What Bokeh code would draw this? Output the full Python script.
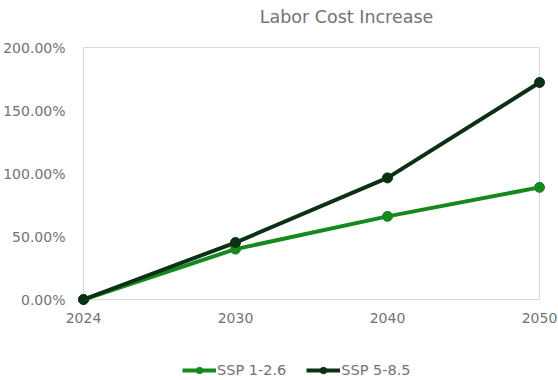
from bokeh.plotting import figure
from bokeh.models import Range1d, NumeralTickFormatter, FixedTicker, Legend, LegendItem, Label
from bokeh.embed import file_html
from bokeh.resources import INLINE

years = ["2024", "2030", "2040", "2050"]
ssp126 = [0.0, 0.40, 0.66, 0.89]
ssp585 = [0.0, 0.452, 0.965, 1.722]
y_ticks = [0.0, 0.5, 1.0, 1.5, 2.0]
title_text = "Labor Cost Increase"

x = list(range(len(years)))
FONT = "DejaVu Sans"
TXT = "#737373"
GREEN = "#16891e"
DARK = "#0b3014"

# frame covers the whole canvas; data 0..3 -> px 83..539, 0..2 -> px 299..47
p = figure(width=558, height=380, output_backend="svg", toolbar_location=None,
           x_range=Range1d(-83 / 152, 3 + 19 / 152), y_range=Range1d(-81 / 126, 2 + 47 / 126),
           min_border_left=0, min_border_right=0, min_border_top=0, min_border_bottom=0)
p.background_fill_color = "white"
p.border_fill_color = "white"
p.outline_line_color = None
p.xgrid.grid_line_color = None
p.ygrid.grid_line_color = None

for ax in (p.xaxis[0], p.yaxis[0]):
    ax.axis_line_color = None
    ax.major_tick_line_color = None
    ax.minor_tick_line_color = None
    ax.major_label_text_font = FONT
    ax.major_label_text_font_size = "14px"
    ax.major_label_text_color = TXT

p.xaxis.ticker = FixedTicker(ticks=x)
p.xaxis.major_label_overrides = {i: y for i, y in zip(x, years)}
p.xaxis.major_label_standoff = 7
p.xaxis.fixed_location = y_ticks[0]
p.yaxis.ticker = FixedTicker(ticks=y_ticks)
p.yaxis.formatter = NumeralTickFormatter(format="0.00%")
p.yaxis.major_label_standoff = 12
p.yaxis.fixed_location = x[0]

# plot-area box
p.quad(left=[x[0]], right=[x[-1]], bottom=[y_ticks[0]], top=[y_ticks[-1]],
       fill_color=None, line_color="#d9d9d9", line_width=1)

l1 = p.line(x, ssp126, line_color=GREEN, line_width=4)
s1 = p.scatter(x, ssp126, marker="circle", size=10, fill_color=GREEN, line_color=GREEN)
l2 = p.line(x, ssp585, line_color=DARK, line_width=4)
s2 = p.scatter(x, ssp585, marker="circle", size=10, fill_color=DARK, line_color=DARK)

legend = Legend(items=[LegendItem(label="SSP 1-2.6", renderers=[l1, s1]),
                       LegendItem(label="SSP 5-8.5", renderers=[l2, s2])],
                orientation="horizontal", location=(182, 2),
                padding=0, margin=0, spacing=20, glyph_width=34, glyph_height=16,
                label_standoff=1, border_line_color=None, background_fill_alpha=0,
                label_text_font=FONT, label_text_font_size="14.5px", label_text_color=TXT)
p.add_layout(legend, "center")

p.add_layout(Label(x=(346 - 83) / 152, y=(299 - 16) / 126, text=title_text,
                   text_font=FONT, text_font_size="17.5px", text_color=TXT,
                   text_align="center", text_baseline="middle"))

open("out.html", "w").write(file_html(p, INLINE))
